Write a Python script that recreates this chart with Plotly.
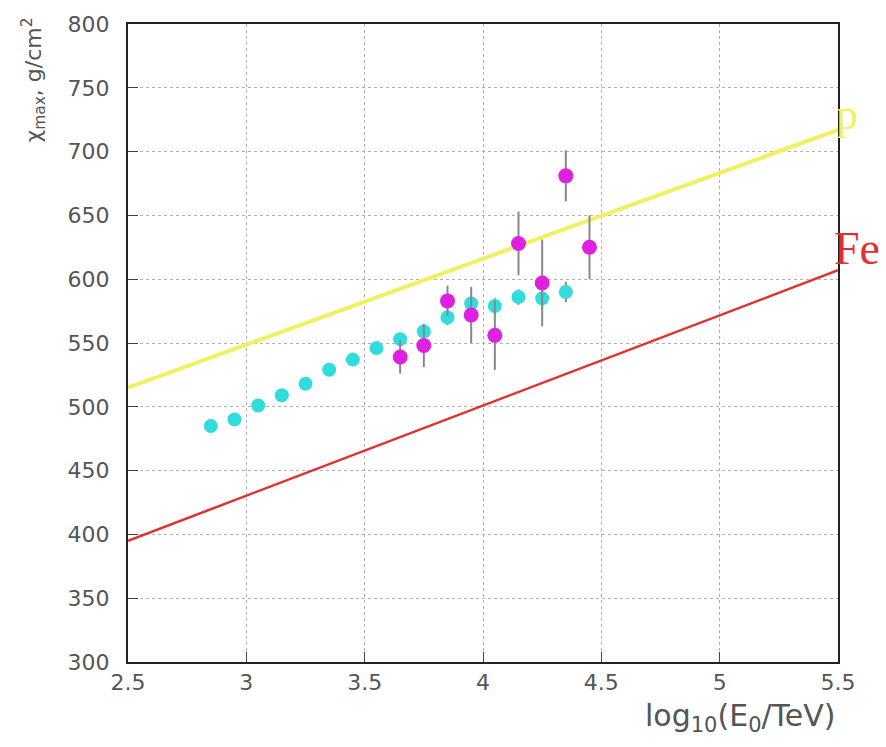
import plotly.graph_objects as go

# Cyan series (simulation-like points)
cyan_x = [2.85, 2.95, 3.05, 3.15, 3.25, 3.35, 3.45, 3.55, 3.65, 3.75, 3.85, 3.95, 4.05, 4.15, 4.25, 4.35]
cyan_y = [485, 490, 501, 509, 518, 529, 537, 546, 553, 559, 570, 581, 579, 586, 585, 590]
cyan_err = [3, 3, 3, 3, 3, 3, 3, 4, 5, 5, 6, 6, 6, 6, 7, 8]

# Magenta series (measured points)
mag_x = [3.65, 3.75, 3.85, 3.95, 4.05, 4.15, 4.25, 4.35, 4.45]
mag_y = [539, 548, 583, 572, 556, 628, 597, 681, 625]
mag_err = [13, 17, 12, 22, 27, 25, 34, 20, 25]

# Reference lines (p and Fe)
line_x = [2.5, 5.5]
p_y = [515, 717]
fe_y = [395, 607]

fig = go.Figure()

fig.add_trace(go.Scatter(x=line_x, y=p_y, mode="lines",
                         line=dict(color="#f0f060", width=4), showlegend=False))
fig.add_trace(go.Scatter(x=line_x, y=fe_y, mode="lines",
                         line=dict(color="#e03030", width=2.5), showlegend=False))

fig.add_trace(go.Scatter(x=cyan_x, y=cyan_y, mode="markers",
                         marker=dict(color="#30dcdc", size=14, symbol="circle"),
                         error_y=dict(type="data", array=cyan_err, color="#888888", thickness=2, width=0),
                         showlegend=False))
fig.add_trace(go.Scatter(x=mag_x, y=mag_y, mode="markers",
                         marker=dict(color="#e020e0", size=15, symbol="circle"),
                         error_y=dict(type="data", array=mag_err, color="#888888", thickness=2, width=0),
                         showlegend=False))

axis_common = dict(
    showline=True, linecolor="#222222", linewidth=2, mirror=True,
    showgrid=True, gridcolor="#b0b0b0", griddash="dot", gridwidth=1,
    ticks="inside", ticklen=10, tickcolor="#444444",
    tickfont=dict(family="DejaVu Sans", size=22, color="#555555"),
    zeroline=False,
)

fig.update_layout(
    width=886, height=747,
    margin=dict(l=128, r=48, t=20, b=85),
    paper_bgcolor="white", plot_bgcolor="white",
    xaxis=dict(range=[2.5, 5.5], tickvals=[2.5, 3, 3.5, 4, 4.5, 5, 5.5],
               ticktext=["2.5", "3", "3.5", "4", "4.5", "5", "5.5"], **axis_common),
    yaxis=dict(range=[300, 800], tickvals=[300, 350, 400, 450, 500, 550, 600, 650, 700, 750, 800],
               ticklabelstandoff=12, **axis_common),
    annotations=[
        dict(text="log<sub>10</sub>(E<sub>0</sub>/TeV)", x=1, y=0, xref="paper", yref="paper",
             xanchor="right", yanchor="top", yshift=-34, showarrow=False,
             font=dict(family="DejaVu Sans", size=30, color="#555555")),
        dict(text="χ<sub>max</sub>, g/cm<sup>2</sup>", x=0, y=1, xref="paper", yref="paper",
             xanchor="center", yanchor="top", xshift=-95, yshift=8, textangle=-90, showarrow=False,
             font=dict(family="DejaVu Sans", size=22, color="#555555")),
        dict(text="p", x=5.5, y=729, xref="x", yref="y", xanchor="left", yanchor="middle",
             xshift=-4, showarrow=False,
             font=dict(family="Liberation Serif", size=44, color="#f0f060")),
        dict(text="Fe", x=5.5, y=624, xref="x", yref="y", xanchor="left", yanchor="middle",
             xshift=-6, showarrow=False,
             font=dict(family="Liberation Serif", size=46, color="#e03030")),
    ],
)

fig.write_html("out.html")
